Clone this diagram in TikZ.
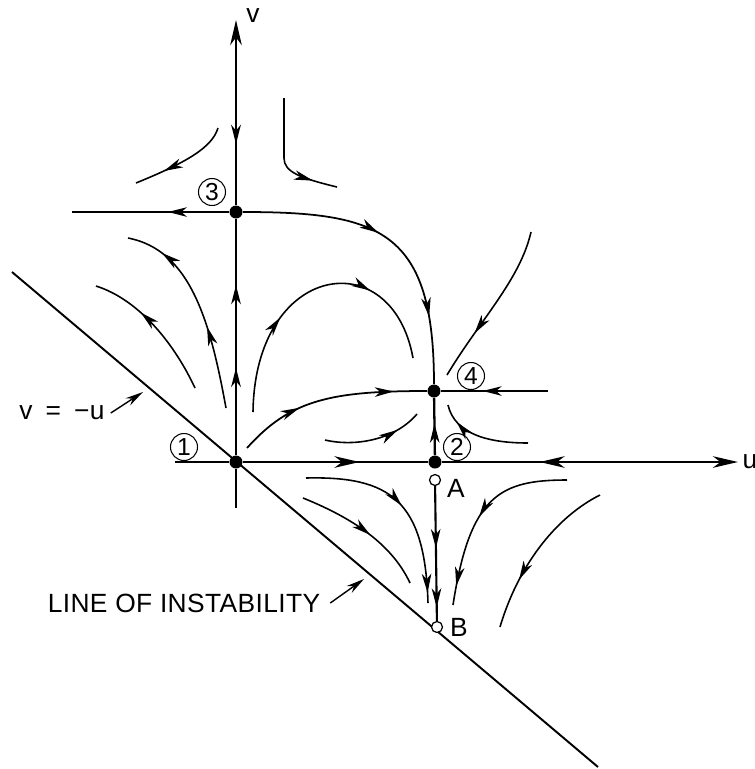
\documentclass[tikz,border=0pt]{standalone}
\usepackage{fontspec}
\setmainfont{Liberation Sans}[LetterSpace=1.5]
\usepackage{tikz}
\usetikzlibrary{positioning,arrows.meta,decorations.markings}

\tikzset{
    flowtip/.tip={Stealth[length=3.8mm, width=1.9mm, inset=1.1mm]},
    axistip/.tip={Stealth[length=5mm, width=2.3mm, inset=1.5mm]}
}

\begin{document}
\begin{tikzpicture}[
    x=0.02cm, y=-0.02cm,
    font=\fontsize{15}{17}\selectfont,
    axis/.style={line width=1.6pt},
    sep/.style={line width=1pt},
    flow/.style={line width=0.9pt},
    fp/.style={circle, fill, inner sep=0pt, minimum size=0.26cm},
    op/.style={circle, draw, fill=white, line width=0.7pt, inner sep=0pt, minimum size=0.22cm},
    num/.style={circle, draw, line width=0.6pt, inner sep=0pt, minimum size=0.54cm, font=\fontsize{14}{14}\selectfont},
    txt/.style={inner sep=1pt},
    fwd/.style={postaction={decorate, decoration={markings, mark=at position #1 with {\arrow{flowtip}}}}},
    bwd/.style={postaction={decorate, decoration={markings, mark=at position #1 with {\arrowreversed{flowtip}}}}},
    afwd/.style={postaction={decorate, decoration={markings, mark=at position #1 with {\arrow{axistip}}}}},
    abwd/.style={postaction={decorate, decoration={markings, mark=at position #1 with {\arrowreversed{axistip}}}}},
    pointer/.style={line width=0.8pt, -{Stealth[length=3.6mm, width=1.7mm]}}
]
    \useasboundingbox (0,0) rectangle (755,769);

    % line of instability v = -u
    \coordinate (li1) at (12,272);
    \coordinate (li2) at (598,767);
    \draw[line width=1.1pt] (li1) -- (li2);

    % singular points
    \node[fp] (p1) at (236,462) {};
    \node[fp] (p2) at (435,462) {};
    \node[fp] (p3) at (236,212) {};
    \node[fp] (p4) at (434,391) {};
    \node[op] (A) at (435,480) {};
    \node[op] (B) at (437,627) {};

    \node[num] (n1) at (184,447) {1};
    \node[num] (n2) at (457,447) {2};
    \node[num] (n3) at (212,192) {3};
    \node[num] (n4) at (471,376) {4};
    \node[txt] (la) at (456,488) {A};
    \node[txt] (lb) at (459,627) {B};

    % axes
    \coordinate (vbot) at (236,508);
    \coordinate (vtop) at (236,20);
    \coordinate (uleft) at (175,462);
    \coordinate (uright) at (738,462);
    \node[txt] (lv) at (253,16) {v};
    \node[txt] (lu) at (750,462) {u};

    \draw[axis] (vbot) -- (p1);
    \draw[axis, fwd=0.37, fwd=0.72] (p1) -- (p3);
    \draw[axis, -{axistip}, bwd=0.33] (p3) -- (vtop);
    \draw[axis] (uleft) -- (p1);
    \draw[axis, afwd=0.63] (p1) -- (p2);
    \draw[axis, -{axistip}, abwd=0.33] (p2) -- (uright);

    % separatrices
    \coordinate (hl) at (72,212);
    \coordinate (hr) at (548,391);
    \coordinate (s4) at (247,448);
    \draw[sep, fwd=0.39] (p3) -- (hl);
    \draw[sep, fwd=0.45, fwd=0.78] (p3) .. controls (380,212) and (434,230) .. (p4);
    \draw[sep, fwd=0.34, fwd=0.83] (s4) .. controls (290,400) and (330,391) .. (p4);
    \draw[sep, fwd=0.61] (hr) -- (p4);
    \draw[axis, line width=1.3pt, fwd=0.55] (p2) -- (p4);
    \draw[sep, line width=1.2pt, fwd=0.46, fwd=0.9] (A) -- (B);

    % trajectories
    \draw[flow, fwd=0.7] (218,128) .. controls (212,148) and (185,163) .. (136,183);
    \draw[flow, fwd=0.8] (284,98) -- (284,158) .. controls (284,172) and (300,178) .. (337,187);
    \draw[flow, fwd=0.4, fwd=0.82] (226,408) .. controls (210,320) and (190,250) .. (128,238);
    \draw[flow, fwd=0.64] (195,388) .. controls (175,345) and (140,300) .. (96,286);
    \draw[flow, fwd=0.35, fwd=0.71] (253,412) .. controls (255,262) and (392,242) .. (413,358);
    \draw[flow, fwd=0.75] (325,440) .. controls (355,447) and (395,440) .. (417,414);
    \draw[flow, fwd=0.8] (528,443) .. controls (490,443) and (455,435) .. (448,405);
    \draw[flow, fwd=0.7] (531,232) .. controls (520,280) and (480,320) .. (447,375);
    \draw[flow, fwd=0.5, fwd=0.95] (306,478) .. controls (390,476) and (425,500) .. (428,603);
    \draw[flow, fwd=0.55] (303,498) .. controls (345,515) and (390,540) .. (410,583);
    \draw[flow, fwd=0.52, fwd=0.9] (567,480) .. controls (500,480) and (470,495) .. (453,605);
    \draw[flow, fwd=0.7] (600,495) .. controls (560,515) and (520,560) .. (500,627);

    % labels with pointers
    \node[txt] (eq) at (62,413) {v\enspace=\enspace−u};
    \node[txt] (inst) at (184,603) {LINE OF INSTABILITY};
    \coordinate (eqtip) at (143,392);
    \coordinate (insttip) at (364,579);
    \draw[pointer] ([xshift=0.08cm]eq.east) -- (eqtip);
    \draw[pointer] ([xshift=0.16cm]inst.east) -- (insttip);
\end{tikzpicture}
\end{document}
